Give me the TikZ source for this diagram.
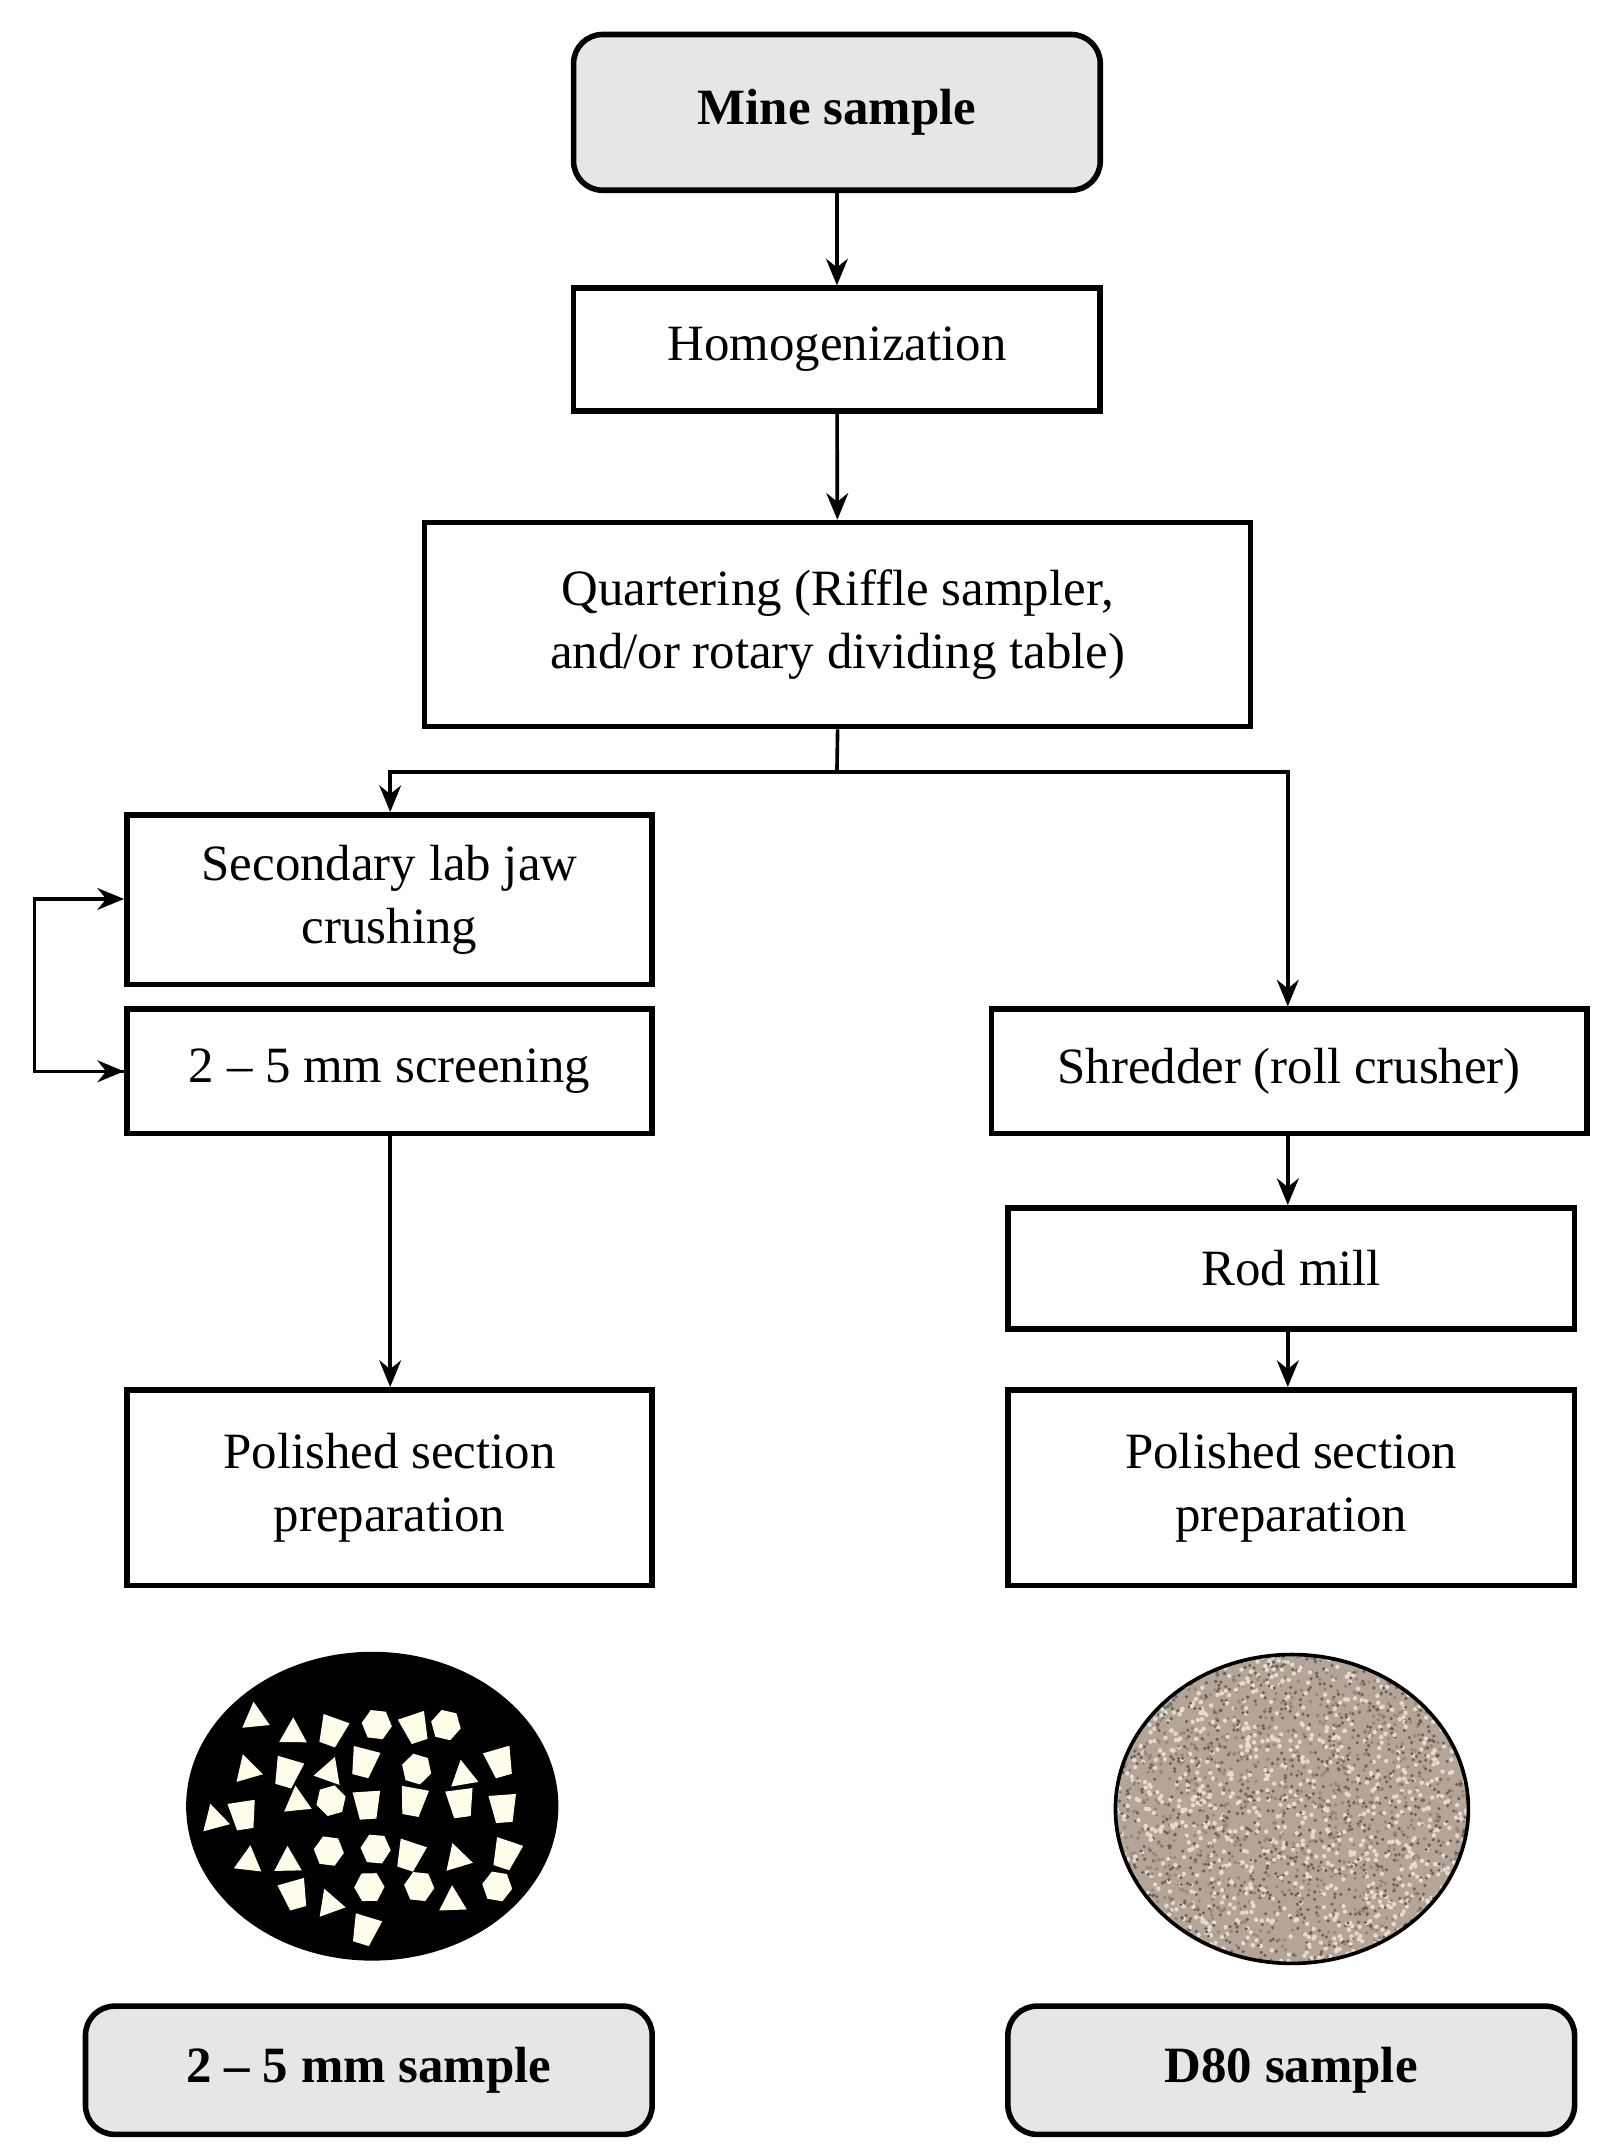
\documentclass[tikz,border=0pt]{standalone}
\usepackage{fontspec}
\setmainfont{Liberation Serif}
\usetikzlibrary{arrows.meta}
\definecolor{boxgray}{RGB}{230,230,230}
\definecolor{sandbase}{RGB}{180,165,150}
\definecolor{sandA}{RGB}{110,97,88}
\definecolor{sandB}{RGB}{228,220,210}
\definecolor{sandC}{RGB}{150,135,122}
\newcommand{\B}[7]{\node[#6, minimum width={(#4-#2)*0.02cm}, minimum height={(#5-#3)*0.02cm}] (#1) at ({(#2+#4)/2},{(#3+#5)/2}) {#7};}
\begin{document}
\begin{tikzpicture}[x=0.02cm,y=-0.02cm,
 box/.style={draw, line width=2.3pt, inner sep=0pt, align=center, font=\fontsize{21}{26}\selectfont},
 rbox/.style={box, fill=boxgray, rounded corners=12pt, font=\fontsize{21}{26}\selectfont\bfseries},
 arr/.style={line width=1.5pt, -{Stealth[length=11pt,width=9pt]}}]
\useasboundingbox (0,0) rectangle (1163,1555);
\B{mine}{416}{25}{798}{138}{rbox}{Mine sample}
\B{homo}{416}{209}{798}{298}{box}{Homogenization}
\B{quart}{308}{379}{907}{527}{box}{Quartering (Riffle sampler,\\and/or rotary dividing table)}
\B{sec}{92}{591}{473}{714}{box}{Secondary lab jaw\\crushing}
\B{scr}{92}{732}{473}{822}{box}{2 -- 5 mm screening}
\B{shred}{719}{732}{1151}{822}{box}{Shredder (roll crusher)}
\B{rod}{731}{876}{1142}{964}{box}{Rod mill}
\B{polL}{92}{1008}{473}{1150}{box}{Polished section\\preparation}
\B{polR}{731}{1008}{1142}{1150}{box}{Polished section\\preparation}
\B{sL}{62}{1455}{473}{1548}{rbox}{2 -- 5 mm sample}
\B{sR}{731}{1455}{1142}{1548}{rbox}{D80 sample}
\coordinate (split) at (607,560);
\coordinate (loop) at (25,0);
\draw[arr] (mine) -- (homo);
\draw[arr] (homo) -- (quart);
\draw[line width=1.5pt] (quart.south) -- (split);
\draw[arr] (split) -| (sec.north -| 283,0);
\draw[arr] (split) -| (shred.north -| 934,0);
\draw[arr] (sec.west |- 0,777) -- (loop |- 0,777) -- (loop |- 0,652) -- (sec.west |- 0,652);
\draw[arr] (loop |- 0,777) -- (scr.west |- 0,777);
\draw[arr] (scr.south -| 283,0) -- (polL.north -| 283,0);
\draw[arr] (shred.south -| 934,0) -- (rod.north -| 934,0);
\draw[arr] (rod.south -| 934,0) -- (polR.north -| 934,0);
% left sample
\fill[black] (270,1310) ellipse [x radius=135, y radius=112];
\pgfmathsetseed{7}
\foreach \gx in {0,...,8}{\foreach \gy in {0,...,6}{
  \pgfmathsetmacro{\px}{150+\gx*30+rand*7}
  \pgfmathsetmacro{\py}{1218+\gy*31+rand*7}
  \pgfmathparse{((\px-270)/118)^2+((\py-1310)/96)^2<1?1:0}
  \ifnum\pgfmathresult=1
   \pgfmathrandominteger{\t}{0}{2}
   \pgfmathsetmacro{\ang}{rand*20}
   \begin{scope}[shift={(\px,\py)},rotate=\ang]
   \ifcase\t
    \fill[white!92!yellow] (-10,8)--(10,8)--(0,-10)--cycle;
   \or
    \fill[white!92!yellow] (-10,-10)--(10,-10)--(6,10)--(-6,10)--cycle;
   \or
    \fill[white!92!yellow] (-11,0)--(-5.5,-10)--(5.5,-10)--(11,0)--(5.5,10)--(-5.5,10)--cycle;
   \fi
   \end{scope}
  \fi}}
% right sample
\begin{scope}
\clip (937,1312) ellipse [x radius=128, y radius=112];
\fill[sandbase] (800,1195) rectangle (1070,1430);
\foreach \i in {1,...,3500}{
  \pgfmathsetmacro{\px}{937+rand*130}
  \pgfmathsetmacro{\py}{1312+rand*114}
  \pgfmathrandominteger{\c}{0}{2}
  \ifcase\c \fill[sandA] (\px,\py) circle (1.3);
  \or \fill[sandB] (\px,\py) circle (1.6);
  \or \fill[sandC] (\px,\py) circle (1.4);
  \fi}
\end{scope}
\draw[line width=1.5pt] (937,1312) ellipse [x radius=128, y radius=112];
\end{tikzpicture}
\end{document}
